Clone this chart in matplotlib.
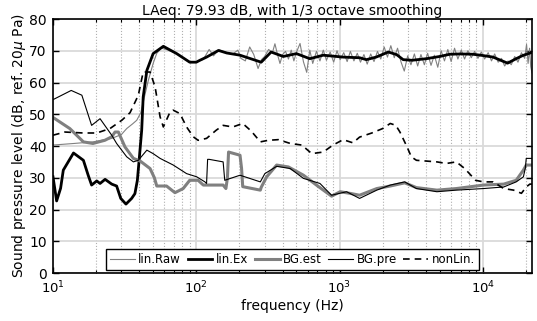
import matplotlib
matplotlib.use('Agg')
import matplotlib.pyplot as plt
from matplotlib.ticker import LogLocator, NullFormatter

# lin.Ex (thick black)
ex_f = [10, 10.6, 11.3, 11.8, 13.9, 16.3, 17.6, 18.6, 20.2, 21.3, 23.1, 25.7, 27.8, 29.7,
        32.3, 35.4, 37.3, 38.8, 40, 41.6, 42.6, 45.2, 50, 58.9, 73, 90, 100, 106, 118,
        143, 163, 202, 284, 333, 405, 500, 620, 770, 1060, 1380, 1540, 1800, 2190, 2500,
        2780, 3200, 4040, 5000, 5880, 7000, 8530, 10000, 11800, 13000, 14900, 17100,
        19000, 21400, 22050]
ex_db = [30.3, 22.7, 26.7, 32.4, 37.8, 35.5, 30.8, 27.7, 29.0, 28.2, 29.5, 28.0, 27.4, 23.5,
         21.7, 23.5, 25.0, 29.2, 36, 45, 55.4, 63.8, 69.1, 71.4, 69.1, 66.4, 66.4, 67.0, 68,
         70.1, 69.3, 68.6, 66.4, 69.6, 68.2, 69.1, 67.5, 68.6, 68.0, 67.8, 67.2, 68.0, 69.6, 68.8,
         67.2, 67.0, 67.5, 68.2, 68.9, 69.0, 68.9, 68.5, 68.0, 67.2, 66.1, 67.5,
         68.5, 69.3, 69.5]

# lin.Raw (thin gray)
raw_f = [10, 14, 19, 25.7, 30, 32.7, 36, 38.4, 41, 44, 46.3, 50, 53, 57, 62, 73, 90, 100,
         112, 123, 132, 143, 160, 178, 195, 205, 220, 236, 252, 270, 285, 300, 320, 340,
         354, 370, 384, 400, 420, 440, 460, 480,
         500, 530, 560, 590, 620, 650, 690, 730, 770, 810, 860, 910, 960, 1010, 1070, 1130,
         1190, 1260, 1330, 1400, 1480, 1560, 1650, 1740, 1840, 1940, 2050, 2160, 2280, 2410,
         2540, 2680, 2830, 2990, 3150, 3330, 3510, 3700, 3910, 4120, 4350, 4590, 4850, 5120,
         5400, 5700, 6010, 6350, 6700, 7070, 7460, 7870, 8310, 8770, 9250, 9760, 10300,
         10900, 11500, 12100, 12800, 13500, 14200, 15000, 15800, 16700, 17600, 18600, 19600,
         20200, 20700, 21200, 21600, 22050]
raw_db = [40.3, 40.8, 41.3, 42.4, 43.6, 45.5, 47, 48.1, 50.5, 56.5, 60.7, 66, 69.2, 70.8, 70.4,
          69.1, 66.5, 66.5, 67.3, 70.4, 68.4, 70.3, 69.6, 68.8, 70.2, 67.6, 66.8, 71.2, 68.8,
          64.4, 67.2, 68.2, 70.4, 69.4, 72.2, 68.6, 66.0, 68.8, 69.8, 67.4, 70.2, 66.8,
          69.5, 72.3, 66.5, 63.2, 70.2, 66.0, 69.8, 66.8, 70.2, 67.0, 69.6, 66.4, 70.0, 67.2,
          69.4, 66.6, 69.8, 66.8, 69.2, 66.4, 68.8, 65.8, 69.0, 66.6, 69.8, 67.4, 71.2, 68.0,
          71.6, 67.8, 70.8, 66.6, 63.6, 68.4, 65.6, 69.0, 65.2, 68.8, 65.6, 69.2, 65.4, 68.6,
          64.8, 70.0, 66.8, 70.4, 66.6, 70.8, 67.4, 70.2, 67.4, 70.0, 67.8, 69.8, 67.6, 69.6,
          67.4, 69.4, 66.8, 69.0, 66.4, 67.6, 65.2, 66.8, 65.6, 68.2, 66.4, 69.4, 67.6, 72.0,
          66.0, 70.8, 65.0, 63.0]

# BG.est (thick gray)
est_f = [10, 13.1, 16.3, 19, 23, 25.7, 27.1, 28.6, 31.8, 36.4, 40.5, 47.6, 51, 53, 62, 71,
         81, 90, 103, 112, 154, 161, 165, 168, 202, 207, 211, 280, 284, 310, 364, 440, 560,
         690, 880, 1010, 1180, 1380, 1820, 2260, 2850, 3440, 4780, 6530, 10100, 14000,
         17100, 19200, 20100, 22050]
est_db = [49, 45.5, 41.3, 40.8, 41.8, 42.9, 44.4, 44.4, 39.7, 36.1, 35.3, 32.9, 30, 27.4,
          27.4, 25.3, 26.6, 29.2, 29.2, 27.7, 27.7, 26.6, 30, 38.1, 37.1, 33, 27.2, 26.1, 27,
          30.3, 34, 33.4, 30.8, 27.7, 24.2, 25.6, 25.1, 24.5, 26.6, 27.4, 28.4, 26.9, 26.1,
          26.6, 27.7, 28, 29.2, 32.4, 34, 34]

# BG.pre (thin black)
pre_f = [10, 13.4, 15.9, 18.6, 21.3, 25.7, 27.8, 32.7, 36.4, 39.4, 45.2, 50, 55.9, 69.1,
         85.6, 100.7, 114.9, 118, 120, 123, 154, 158, 202, 280, 301, 364, 453, 560, 730,
         880, 1120, 1380, 1820, 2260, 2850, 3440, 4780, 6530, 10100, 14000, 17100, 19200,
         19800, 20100, 22050]
pre_db = [54.6, 57.5, 56, 46.5, 48.6, 43.4, 40.8, 36.6, 35, 35.5, 38.7, 37.6, 36.1, 34,
          31.3, 30.3, 28.7, 28.2, 35.8, 35.8, 35, 29.2, 30.8, 28.7, 31.3, 33.6, 32.9, 29.8,
          28.2, 24.5, 25.6, 23.5, 26.1, 27.7, 28.7, 26.6, 25.6, 26.1, 26.6, 27.1, 28.7, 30.3,
          33, 36.1, 36.1]

# nonLin. (dashed black)
nl_f = [10, 12.1, 16.3, 20.2, 25, 30.2, 34.5, 39.4, 42.6, 47.6, 51.6, 55.9, 58.9, 65.6, 69,
        76.9, 85.6, 95.3, 103, 118, 138, 154, 180, 211, 242, 280, 318, 374, 453, 545, 640,
        770, 900, 1060, 1240, 1380, 1680, 2000, 2260, 2470, 2640, 2960, 3170, 3440, 4780,
        5570, 6530, 7480, 8900, 10100, 11800, 14000, 16400, 18600, 20100, 21300, 22050]
nl_db = [43.4, 44.4, 44.1, 44.1, 45.5, 48.1, 50.5, 56, 63.3, 63.3, 58.6, 49.2, 46, 50.7,
         51.3, 50.2, 46, 42.9, 41.8, 42.4, 45, 46.5, 46, 47.1, 44.7, 41.3, 41.8, 42, 40.8,
         40.3, 37.6, 38.1, 40.3, 42, 41, 42.8, 44.1, 45.5, 47.1, 46.5, 44.4, 39.7, 36.6,
         35.5, 35, 34.5, 35, 32.9, 29.2, 28.7, 28.7, 26.6, 26.1, 25.1, 27.1, 28, 28]

fig = plt.figure(figsize=(5.37, 3.21), dpi=100)
ax = fig.add_axes([0.0987, 0.1495, 0.892, 0.7913])

ax.semilogx(raw_f, raw_db, color='#808080', lw=0.8, label='lin.Raw')
ax.semilogx(ex_f, ex_db, color='black', lw=2.0, label='lin.Ex')
ax.semilogx(est_f, est_db, color='#808080', lw=2.2, label='BG.est')
ax.semilogx(pre_f, pre_db, color='black', lw=0.8, label='BG.pre')
ax.semilogx(nl_f, nl_db, color='black', lw=1.2, ls=(0, (4, 3)), label='nonLin.')

ax.set_xlim(10, 22050)
ax.set_ylim(0, 80)
ax.set_yticks(range(0, 81, 10))
ax.xaxis.set_major_locator(LogLocator(base=10))
ax.xaxis.set_minor_locator(LogLocator(base=10, subs=range(2, 10)))
ax.xaxis.set_minor_formatter(NullFormatter())

ax.grid(True, which='major', color='#dadada', lw=1.3, ls='-')
ax.grid(True, which='minor', axis='x', color='#b0b0b0', lw=0.8, ls=':')
ax.set_axisbelow(True)

ax.tick_params(which='both', direction='in', top=True, right=True, labelsize=10)
ax.tick_params(which='major', length=4, width=1)
ax.tick_params(which='minor', length=2.5, width=0.8)
ax.tick_params(axis='y', pad=4.5)
ax.tick_params(axis='x', pad=5, labelsize=9.5)
for s in ax.spines.values():
    s.set_linewidth(1.2)

ax.set_xlabel('frequency (Hz)', fontsize=10, labelpad=2)
ax.set_ylabel(r'Sound pressure level (dB, ref. 20$\mu$ Pa)', fontsize=10, labelpad=1)
ax.set_title('LAeq: 79.93 dB, with 1/3 octave smoothing', fontsize=10, pad=3)

leg = ax.legend(loc='lower center', bbox_to_anchor=(0.5, 0.01), ncol=5, fontsize=8.5,
                handlelength=2.1, handletextpad=0.3, columnspacing=0.55, borderpad=0.35,
                borderaxespad=0, fancybox=False, framealpha=1, edgecolor='black')
leg.get_frame().set_linewidth(1.0)

fig.savefig('out.png', dpi=100)
